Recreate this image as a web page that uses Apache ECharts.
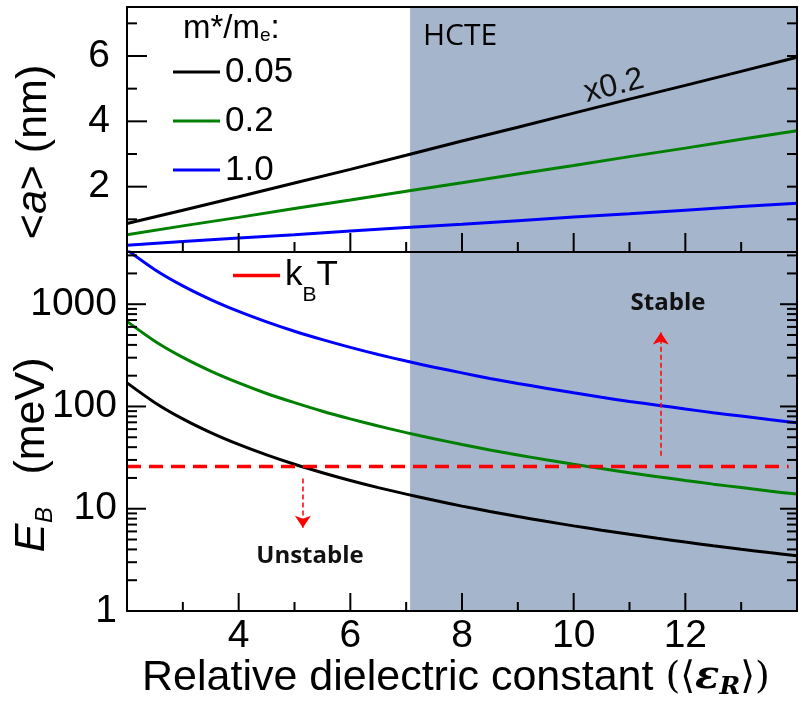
<!DOCTYPE html>
<html><head><meta charset="utf-8">
<script src="https://cdn.jsdelivr.net/npm/echarts@6/dist/echarts.min.js"></script>
<style>html,body{margin:0;padding:0;background:#fff}#c{width:799px;height:704px}</style>
</head><body><div id="c"></div>
<script>
// ---- data ----
const epsTop = [2,3,4,5,6,7,8,9,10,11,12,13,14];
const aM005 = [0.87,1.28,1.69,2.11,2.53,2.96,3.40,3.82,4.25,4.68,5.10,5.53,5.96]; // shown x0.2
const aM02  = [0.53,0.80,1.06,1.33,1.59,1.86,2.12,2.39,2.65,2.92,3.18,3.45,3.71];
const aM10  = [0.21,0.32,0.43,0.53,0.64,0.75,0.85,0.96,1.07,1.17,1.28,1.39,1.49];

const epsBot = [2,2.5,3,3.5,4,4.5,5,5.5,6,6.5,7,7.5,8,8.5,9,9.5,10,10.5,11,11.5,12,12.5,13,13.5,14];
const eB005 = [170,109,75.6,55.5,42.5,33.6,27.2,22.5,18.9,16.1,13.9,12.1,10.6,9.41,8.40,7.53,6.80,6.17,5.62,5.14,4.72,4.35,4.02,3.73,3.47];
const eB02  = [680,435,302,222,170,134,109,89.9,75.6,64.4,55.5,48.4,42.5,37.6,33.6,30.1,27.2,24.7,22.5,20.6,18.9,17.4,16.1,14.9,13.9];
const eB10  = [3400,2176,1511,1110,850,672,544,450,378,322,278,242,213,188,168,151,136,123,112,103,94.4,87.0,80.5,74.6,69.4];

const kBTValue = 25.9;
const kBTRange = [2, 13.85];
const hcteRange = [7.07, 14];
const stableArrow = {x: 11.56, from: 33, to: 530};
const unstableArrow = {x: 5.15, from: 19.8, to: 6.5};

// ---- axes / ticks ----
const xRange = [2, 14];
const xTickLabels = [4, 6, 8, 10, 12];
const xMajorTicks = [2, 4, 6, 8, 10, 12, 14];
const xMinorTicks = [3, 5, 7, 9, 11, 13];
const aRange = [0, 7.5];
const aTickLabels = [2, 4, 6];
const aMajorTicks = [2, 4, 6];
const aMinorTicks = [1, 3, 5, 7];
const aRightTicks = [1, 2, 3, 4, 5, 6, 7];
const eRange = [1, 3240];
const eTickLabels = [1, 10, 100, 1000];
const eMajorTicks = [10, 100, 1000];
const eMinorTicks = [2,3,4,5,6,7,8,9,20,30,40,50,60,70,80,90,200,300,400,500,600,700,800,900,2000,3000];
const massNames = ['0.05', '0.2', '1.0'];
const colors = ['#000000', '#008000', '#0000ff'];

const FONT = 'Liberation Sans, Arial, sans-serif';
const zip = (xs, ys) => xs.map((x, i) => [x, ys[i]]);

const chart = echarts.init(document.getElementById('c'));

const lineW = 2;
const axisBase = {
  z: 10,
  axisLine: {show: true, onZero: false, lineStyle: {color: '#000', width: lineW}},
  axisTick: {show: false},
  splitLine: {show: false},
};

const option = {
  animation: false,
  backgroundColor: '#fff',
  grid: [
    {left: 127, top: 7, width: 670, height: 245, outerBoundsMode: 'none', containLabel: false},
    {left: 127, top: 252, width: 670, height: 359, outerBoundsMode: 'none', containLabel: false}
  ],
  xAxis: [
    Object.assign({}, axisBase, {type: 'value', gridIndex: 0, min: xRange[0], max: xRange[1], interval: 2, position: 'bottom', axisLabel: {show: false}}),
    Object.assign({}, axisBase, {type: 'value', gridIndex: 0, min: xRange[0], max: xRange[1], position: 'top', axisLabel: {show: false}}),
    Object.assign({}, axisBase, {
      type: 'value', gridIndex: 1, min: xRange[0], max: xRange[1], interval: 2, position: 'bottom',
      axisLabel: {show: true, margin: 6, color: '#000', fontFamily: FONT, fontSize: 39,
        formatter: v => xTickLabels.includes(v) ? String(v) : ''}
    })
  ],
  yAxis: [
    Object.assign({}, axisBase, {
      type: 'value', gridIndex: 0, min: aRange[0], max: aRange[1], interval: 2, position: 'left',
      axisLabel: {show: true, margin: 17, color: '#000', fontFamily: FONT, fontSize: 39, padding: [14, 0, 0, 0],
        formatter: v => aTickLabels.includes(v) ? String(v) : ''}
    }),
    Object.assign({}, axisBase, {type: 'value', gridIndex: 0, min: aRange[0], max: aRange[1], interval: 1, position: 'right', axisLabel: {show: false}}),
    Object.assign({}, axisBase, {
      type: 'log', logBase: 10, gridIndex: 1, min: eRange[0], max: eRange[1], position: 'left',
      axisLabel: {show: true, margin: 10, color: '#000', fontFamily: FONT, fontSize: 39, showMaxLabel: false,
        formatter: v => eTickLabels.includes(Math.round(v)) ? String(Math.round(v)) : ''}
    }),
    Object.assign({}, axisBase, {type: 'log', logBase: 10, gridIndex: 1, min: eRange[0], max: eRange[1], position: 'right', axisLabel: {show: false}})
  ],
  legend: [
    {
      data: massNames, orient: 'vertical', left: 173, top: 52, padding: 0, icon: 'rect', itemWidth: 47, itemHeight: 3, itemGap: 9,
      selectedMode: false, textStyle: {fontFamily: FONT, fontSize: 35, lineHeight: 40, color: '#000'}
    },
    {
      data: ['kBT'], orient: 'horizontal', left: 233, top: 245, padding: 0, icon: 'rect', itemWidth: 47, itemHeight: 3.5,
      selectedMode: false,
      formatter: () => '{k|k}{s|B}{k|T}',
      textStyle: {
        color: '#000',
        rich: {
          k: {fontFamily: FONT, fontSize: 35, lineHeight: 36, color: '#000', verticalAlign: 'middle'},
          s: {fontFamily: FONT, fontSize: 21, lineHeight: 21, color: '#000', verticalAlign: 'middle', padding: [40, 0, 0, 0]}
        }
      }
    }
  ],
  series: [
    {type: 'line', xAxisIndex: 0, yAxisIndex: 0, data: [], z: 1, silent: true,
      markArea: {silent: true, itemStyle: {color: '#a5b5cb'}, data: [[{xAxis: hcteRange[0]}, {xAxis: hcteRange[1]}]]}},
    {type: 'line', xAxisIndex: 2, yAxisIndex: 2, data: [], z: 1, silent: true,
      markArea: {silent: true, itemStyle: {color: '#a5b5cb'}, data: [[{xAxis: hcteRange[0]}, {xAxis: hcteRange[1]}]]}},
    ...[aM005, aM02, aM10].map((d, i) => ({
      name: massNames[i], type: 'line', xAxisIndex: 0, yAxisIndex: 0, data: zip(epsTop, d),
      symbol: 'none', z: 3, lineStyle: {color: colors[i], width: 3}, itemStyle: {color: colors[i]}
    })),
    ...[eB005, eB02, eB10].map((d, i) => ({
      name: massNames[i], type: 'line', xAxisIndex: 2, yAxisIndex: 2, data: zip(epsBot, d),
      symbol: 'none', smooth: 0.3, z: 3, lineStyle: {color: colors[i], width: 3}, itemStyle: {color: colors[i]}
    })),
    {
      name: 'kBT', type: 'line', xAxisIndex: 2, yAxisIndex: 2,
      data: [[kBTRange[0], kBTValue], [kBTRange[1], kBTValue]],
      symbol: 'none', z: 4, lineStyle: {color: '#ff0000', width: 3.5, type: [14, 8]}, itemStyle: {color: '#ff0000'},
      markLine: {
        silent: true, symbol: ['none', 'arrow'], symbolSize: [12, 12],
        label: {show: false},
        lineStyle: {color: '#ff0000', width: 1.5, type: [5, 3]},
        data: [
          [{coord: [stableArrow.x, stableArrow.from]}, {coord: [stableArrow.x, stableArrow.to]}],
          [{coord: [unstableArrow.x, unstableArrow.from]}, {coord: [unstableArrow.x, unstableArrow.to]}]
        ]
      }
    }
  ]
};
chart.setOption(option);

// ---- tick marks, placed through the library's own axis scales ----
const tickRects = [];
const px = (xi, yi, x, y) => chart.convertToPixel({xAxisIndex: xi, yAxisIndex: yi}, [x, y]);
function vTicks(xi, yi, yBase, values, len) {
  values.forEach(v => {
    const p = px(xi, yi, v, yBase);
    tickRects.push({type: 'rect', z: 30, silent: true, shape: {x: p[0] - lineW / 2, y: p[1] - len, width: lineW, height: len}, style: {fill: '#000'}});
  });
}
function hTicks(xi, yi, xBase, values, len, fromRight) {
  values.forEach(v => {
    const p = px(xi, yi, xBase, v);
    tickRects.push({type: 'rect', z: 30, silent: true,
      shape: {x: fromRight ? p[0] - len : p[0], y: p[1] - lineW / 2, width: len, height: lineW}, style: {fill: '#000'}});
  });
}
vTicks(0, 0, aRange[0], xMajorTicks, 19);
vTicks(0, 0, aRange[0], xMinorTicks, 10);
vTicks(2, 2, eRange[0], xMajorTicks, 18);
vTicks(2, 2, eRange[0], xMinorTicks, 9);
hTicks(0, 0, xRange[0], aMajorTicks, 20, false);
hTicks(0, 0, xRange[0], aMinorTicks, 10, false);
hTicks(0, 0, xRange[1], aRightTicks, 10, true);
hTicks(2, 2, xRange[0], eMajorTicks, 19, false);
hTicks(2, 2, xRange[0], eMinorTicks, 10, false);
hTicks(2, 2, xRange[1], eMajorTicks, 17, true);
hTicks(2, 2, xRange[1], eMinorTicks, 10, true);

const texts = [
  {type: 'text', left: 183, top: 12, z: 20, style: {
    text: '{m|m*/m}{e|e}{m|:}', rich: {
      m: {fontFamily: FONT, fontSize: 33, lineHeight: 34, fill: '#000', verticalAlign: 'bottom'},
      e: {fontFamily: FONT, fontSize: 19, lineHeight: 22, fill: '#000', verticalAlign: 'bottom'}
    }}},
  {type: 'text', x: 423, y: 36, z: 20, style: {text: 'HCTE', font: '30px "Open Sans", sans-serif', fill: '#000', align: 'left', verticalAlign: 'middle'}},
  {type: 'text', x: 614, y: 86, rotation: 0.245, z: 20, style: {text: 'x0.2', font: '32px ' + FONT, fill: '#111', align: 'center', verticalAlign: 'middle'}},
  {type: 'text', x: 668, y: 303, z: 20, style: {text: 'Stable', font: 'bold 24px "Open Sans", sans-serif', fill: '#111', align: 'center', verticalAlign: 'middle'}},
  {type: 'text', x: 310, y: 556, z: 20, style: {text: 'Unstable', font: 'bold 24px "Open Sans", sans-serif', fill: '#111', align: 'center', verticalAlign: 'middle'}},
  {type: 'text', x: 34, y: 152, rotation: Math.PI / 2, z: 20, style: {
    text: '{n|<}{i|a}{n|> (nm)}', align: 'center', verticalAlign: 'middle',
    rich: {n: {fontFamily: FONT, fontSize: 43, fill: '#000'}, i: {fontFamily: FONT, fontSize: 43, fontStyle: 'italic', fill: '#000'}}}},
  {type: 'text', x: 32, y: 538, rotation: Math.PI / 2, z: 20, style: {text: 'E', font: 'italic 43px ' + FONT, fill: '#000', align: 'center', verticalAlign: 'middle'}},
  {type: 'text', x: 45, y: 515, rotation: Math.PI / 2, z: 20, style: {text: 'B', font: 'italic 24px ' + FONT, fill: '#000', align: 'center', verticalAlign: 'middle'}},
  {type: 'text', x: 32, y: 416, rotation: Math.PI / 2, z: 20, style: {text: '(meV)', font: '43px ' + FONT, fill: '#000', align: 'center', verticalAlign: 'middle'}},
  {type: 'text', x: 142, y: 678, z: 20, style: {
    text: '{n|Relative dielectric constant }{p|(⟨}{e|ε}{r|R}{p|⟩)}', align: 'left', verticalAlign: 'middle',
    rich: {
      n: {fontFamily: FONT, fontSize: 43, fill: '#000', lineHeight: 46, verticalAlign: 'middle'},
      p: {fontFamily: 'DejaVu Serif, DejaVu Sans, serif', fontSize: 38, fill: '#000', lineHeight: 46, verticalAlign: 'middle'},
      e: {fontFamily: 'DejaVu Serif, serif', fontSize: 40, fontStyle: 'italic', fontWeight: 'bold', fill: '#000', lineHeight: 46, verticalAlign: 'middle'},
      r: {fontFamily: 'DejaVu Serif, serif', fontSize: 25, fontStyle: 'italic', fontWeight: 'bold', fill: '#000', lineHeight: 25, verticalAlign: 'middle', padding: [18, 0, 0, 0]}
    }}}
];
chart.setOption({graphic: texts.concat(tickRects)});
</script></body></html>
